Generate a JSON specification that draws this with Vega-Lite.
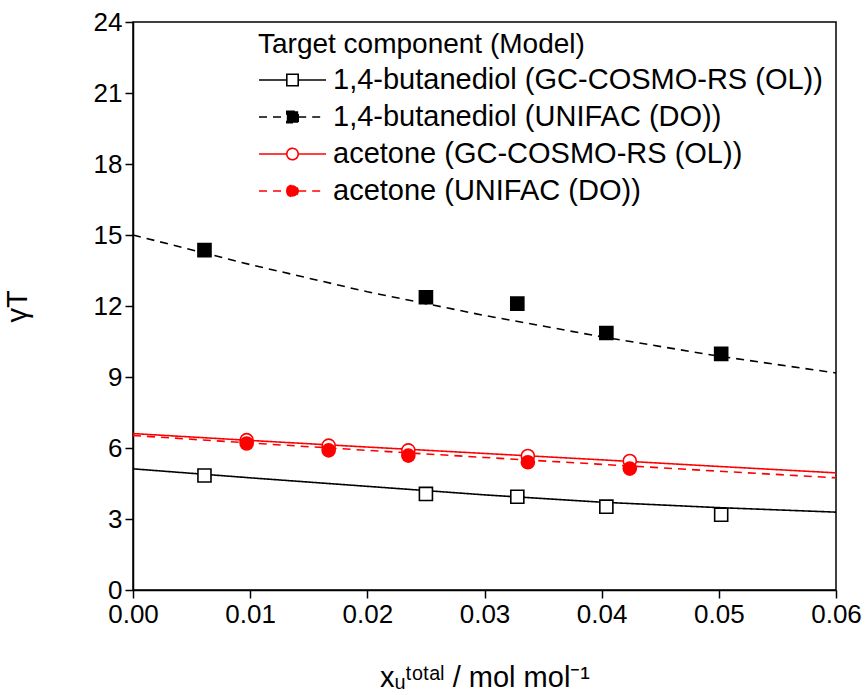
{
  "$schema": "https://vega.github.io/schema/vega-lite/v6.json",
  "autosize": {"type": "none"},
  "padding": {"left": 133, "top": 22, "right": 30, "bottom": 105},
  "width": 703,
  "height": 568,
  "background": "white",
  "config": {
    "view": {"stroke": "black", "strokeWidth": 1.5},
    "font": "Liberation Sans",
    "axis": {
      "grid": false,
      "domainColor": "black",
      "domainWidth": 1.5,
      "tickColor": "black",
      "tickWidth": 1.5,
      "tickSize": 8,
      "labelColor": "black",
      "labelFont": "Liberation Sans",
      "labelFontSize": 26,
      "labelPadding": 3,
      "titleColor": "black",
      "titleFont": "Liberation Sans",
      "titleFontSize": 29,
      "titleFontWeight": "normal"
    },
    "legend": {
      "labelFont": "Liberation Sans",
      "titleFont": "Liberation Sans"
    }
  },
  "datasets": {
    "pts": [
      {"x": 0.0061, "y": 4.84, "series": "1,4-butanediol (GC-COSMO-RS (OL))", "marker": "square"},
      {"x": 0.0250, "y": 4.06, "series": "1,4-butanediol (GC-COSMO-RS (OL))", "marker": "square"},
      {"x": 0.0328, "y": 3.94, "series": "1,4-butanediol (GC-COSMO-RS (OL))", "marker": "square"},
      {"x": 0.0404, "y": 3.52, "series": "1,4-butanediol (GC-COSMO-RS (OL))", "marker": "square"},
      {"x": 0.0502, "y": 3.18, "series": "1,4-butanediol (GC-COSMO-RS (OL))", "marker": "square"},
      {"x": 0.0061, "y": 14.36, "series": "1,4-butanediol (UNIFAC (DO))", "marker": "square"},
      {"x": 0.0250, "y": 12.37, "series": "1,4-butanediol (UNIFAC (DO))", "marker": "square"},
      {"x": 0.0328, "y": 12.10, "series": "1,4-butanediol (UNIFAC (DO))", "marker": "square"},
      {"x": 0.0404, "y": 10.86, "series": "1,4-butanediol (UNIFAC (DO))", "marker": "square"},
      {"x": 0.0502, "y": 9.98, "series": "1,4-butanediol (UNIFAC (DO))", "marker": "square"},
      {"x": 0.0097, "y": 6.33, "series": "acetone (GC-COSMO-RS (OL))", "marker": "circle"},
      {"x": 0.0167, "y": 6.10, "series": "acetone (GC-COSMO-RS (OL))", "marker": "circle"},
      {"x": 0.0235, "y": 5.90, "series": "acetone (GC-COSMO-RS (OL))", "marker": "circle"},
      {"x": 0.0337, "y": 5.66, "series": "acetone (GC-COSMO-RS (OL))", "marker": "circle"},
      {"x": 0.0424, "y": 5.45, "series": "acetone (GC-COSMO-RS (OL))", "marker": "circle"},
      {"x": 0.0097, "y": 6.19, "series": "acetone (UNIFAC (DO))", "marker": "circle"},
      {"x": 0.0167, "y": 5.90, "series": "acetone (UNIFAC (DO))", "marker": "circle"},
      {"x": 0.0235, "y": 5.68, "series": "acetone (UNIFAC (DO))", "marker": "circle"},
      {"x": 0.0337, "y": 5.40, "series": "acetone (UNIFAC (DO))", "marker": "circle"},
      {"x": 0.0424, "y": 5.13, "series": "acetone (UNIFAC (DO))", "marker": "circle"}
    ],
    "lines": [
      {"x": 0.00, "y": 5.12, "series": "1,4-butanediol (GC-COSMO-RS (OL))"},
      {"x": 0.01, "y": 4.74, "series": "1,4-butanediol (GC-COSMO-RS (OL))"},
      {"x": 0.02, "y": 4.38, "series": "1,4-butanediol (GC-COSMO-RS (OL))"},
      {"x": 0.03, "y": 4.02, "series": "1,4-butanediol (GC-COSMO-RS (OL))"},
      {"x": 0.04, "y": 3.71, "series": "1,4-butanediol (GC-COSMO-RS (OL))"},
      {"x": 0.05, "y": 3.48, "series": "1,4-butanediol (GC-COSMO-RS (OL))"},
      {"x": 0.06, "y": 3.29, "series": "1,4-butanediol (GC-COSMO-RS (OL))"},
      {"x": 0.00, "y": 15.0, "series": "1,4-butanediol (UNIFAC (DO))"},
      {"x": 0.01, "y": 13.75, "series": "1,4-butanediol (UNIFAC (DO))"},
      {"x": 0.02, "y": 12.6, "series": "1,4-butanediol (UNIFAC (DO))"},
      {"x": 0.03, "y": 11.6, "series": "1,4-butanediol (UNIFAC (DO))"},
      {"x": 0.04, "y": 10.7, "series": "1,4-butanediol (UNIFAC (DO))"},
      {"x": 0.05, "y": 9.88, "series": "1,4-butanediol (UNIFAC (DO))"},
      {"x": 0.06, "y": 9.17, "series": "1,4-butanediol (UNIFAC (DO))"},
      {"x": 0.00, "y": 6.61, "series": "acetone (GC-COSMO-RS (OL))"},
      {"x": 0.01, "y": 6.32, "series": "acetone (GC-COSMO-RS (OL))"},
      {"x": 0.02, "y": 6.04, "series": "acetone (GC-COSMO-RS (OL))"},
      {"x": 0.03, "y": 5.77, "series": "acetone (GC-COSMO-RS (OL))"},
      {"x": 0.04, "y": 5.50, "series": "acetone (GC-COSMO-RS (OL))"},
      {"x": 0.05, "y": 5.22, "series": "acetone (GC-COSMO-RS (OL))"},
      {"x": 0.06, "y": 4.95, "series": "acetone (GC-COSMO-RS (OL))"},
      {"x": 0.00, "y": 6.53, "series": "acetone (UNIFAC (DO))"},
      {"x": 0.01, "y": 6.21, "series": "acetone (UNIFAC (DO))"},
      {"x": 0.02, "y": 5.90, "series": "acetone (UNIFAC (DO))"},
      {"x": 0.03, "y": 5.60, "series": "acetone (UNIFAC (DO))"},
      {"x": 0.04, "y": 5.31, "series": "acetone (UNIFAC (DO))"},
      {"x": 0.05, "y": 5.02, "series": "acetone (UNIFAC (DO))"},
      {"x": 0.06, "y": 4.74, "series": "acetone (UNIFAC (DO))"}
    ]
  },
  "encoding": {
    "x": {
      "field": "x", "type": "quantitative",
      "scale": {"domain": [0, 0.06], "nice": false, "zero": false},
      "axis": {"values": [0, 0.01, 0.02, 0.03, 0.04, 0.05, 0.06], "format": ".2f", "title": "xᵤᵗᵒᵗᵃˡ / mol mol⁻¹", "titlePadding": 36, "labelFlush": false}
    },
    "y": {
      "field": "y", "type": "quantitative",
      "scale": {"domain": [0, 24], "nice": false},
      "axis": {"values": [0, 3, 6, 9, 12, 15, 18, 21, 24], "title": "γT", "titlePadding": 61, "labelFlush": false}
    },
    "stroke": {"field": "series", "type": "nominal",
      "scale": {"domain": ["1,4-butanediol (GC-COSMO-RS (OL))", "1,4-butanediol (UNIFAC (DO))", "acetone (GC-COSMO-RS (OL))", "acetone (UNIFAC (DO))"], "range": ["black", "black", "#ff0000", "#ff0000"]},
      "legend": {
        "title": "Target component (Model)",
        "orient": "none", "legendX": 125, "legendY": 9,
        "titleFontSize": 28, "titleFontWeight": "normal", "titleColor": "black", "titlePadding": 5, "titleLimit": 700,
        "labelFontSize": 29, "labelColor": "black", "labelOffset": 6, "labelLimit": 700,
        "symbolSize": 4489, "symbolStrokeWidth": 1.6, "symbolOpacity": 1, "clipHeight": 32, "rowPadding": 5
      }}
  },
  "layer": [
    {
      "data": {"name": "lines"},
      "mark": {"type": "line", "strokeWidth": 1.6},
      "encoding": {
        "strokeDash": {"field": "series", "type": "nominal",
          "scale": {"domain": ["1,4-butanediol (GC-COSMO-RS (OL))", "1,4-butanediol (UNIFAC (DO))", "acetone (GC-COSMO-RS (OL))", "acetone (UNIFAC (DO))"], "range": [[1, 0], [8, 6], [1, 0], [8, 6]]},
          "legend": {"title": "Target component (Model)"}}
      }
    },
    {
      "data": {"name": "pts"},
      "transform": [{"filter": "datum.marker === 'square'"}],
      "mark": {"type": "point", "shape": "square", "size": 170, "strokeWidth": 1.6, "opacity": 1},
      "encoding": {
        "fill": {"field": "series", "type": "nominal",
          "scale": {"domain": ["1,4-butanediol (GC-COSMO-RS (OL))", "1,4-butanediol (UNIFAC (DO))", "acetone (GC-COSMO-RS (OL))", "acetone (UNIFAC (DO))"], "range": ["white", "black", "white", "#ff0000"]},
          "legend": {"title": "Target component (Model)"}}
      }
    },
    {
      "data": {"name": "pts"},
      "transform": [{"filter": "datum.marker === 'circle'"}],
      "mark": {"type": "point", "shape": "circle", "size": 170, "strokeWidth": 1.6, "opacity": 1},
      "encoding": {
        "fill": {"field": "series", "type": "nominal",
          "scale": {"domain": ["1,4-butanediol (GC-COSMO-RS (OL))", "1,4-butanediol (UNIFAC (DO))", "acetone (GC-COSMO-RS (OL))", "acetone (UNIFAC (DO))"], "range": ["white", "black", "white", "#ff0000"]},
          "legend": {"title": "Target component (Model)"}}
      }
    },
    {
      "data": {"name": "pts"},
      "mark": {"type": "point", "opacity": 0, "strokeWidth": 1.6},
      "encoding": {
        "shape": {"field": "series", "type": "nominal",
          "scale": {"domain": ["1,4-butanediol (GC-COSMO-RS (OL))", "1,4-butanediol (UNIFAC (DO))", "acetone (GC-COSMO-RS (OL))", "acetone (UNIFAC (DO))"],
            "range": [
              "M-1,0H-0.17M0.17,0H1M-0.17,-0.17H0.17V0.17H-0.17Z",
              "M-1,0H-0.17M0.17,0H1M-0.17,-0.17H0.17V0.17H-0.17Z",
              "M-1,0H-0.17M0.17,0H1M-0.17,0A0.17,0.17 0 1,1 0.17,0A0.17,0.17 0 1,1 -0.17,0Z",
              "M-1,0H-0.17M0.17,0H1M-0.17,0A0.17,0.17 0 1,1 0.17,0A0.17,0.17 0 1,1 -0.17,0Z"
            ]},
          "legend": {"title": "Target component (Model)"}}
      }
    }
  ]
}
